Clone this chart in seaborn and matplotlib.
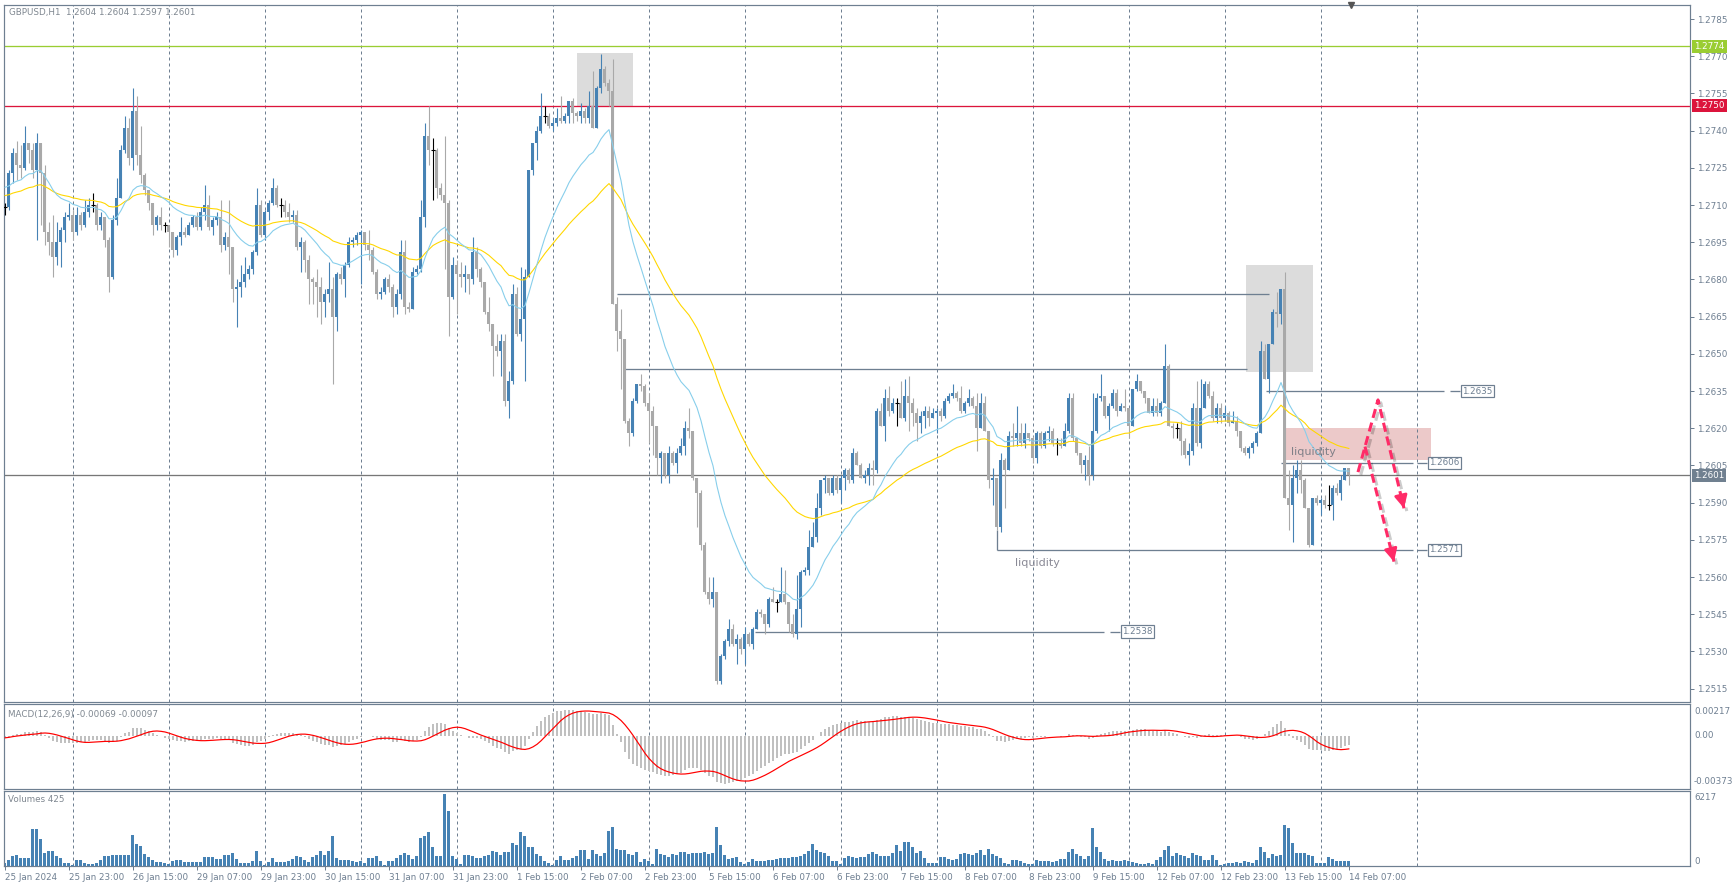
import numpy as np
import pandas as pd
import matplotlib
matplotlib.use("Agg")
import matplotlib.pyplot as plt
import matplotlib.patheffects as pe
from matplotlib.patches import Rectangle
import seaborn as sns

# GBPUSD H1, prices written as 1.2xxx -> xxx (pips above 1.2000)
close_p = [
    709, 723, 731, 726, 725, 735, 732, 724, 735, 723, 699, 695, 689, 695, 700, 705,
    706, 699, 706, 702, 707, 710, 710, 702, 705, 696, 681, 704, 713, 732, 741, 729,
    748, 730, 722, 716, 711, 702, 705, 702, 702, 699, 692, 697, 699, 698, 702, 705,
    701, 707, 710, 701, 704, 705, 694, 697, 693, 676, 677, 679, 682, 684, 691, 710,
    698, 707, 711, 717, 710, 710, 707, 705, 706, 693, 695, 688, 680, 679, 677, 671,
    674, 676, 665, 682, 680, 686, 695, 696, 698, 699, 694, 692, 683, 674, 675, 680,
    677, 669, 674, 691, 669, 668, 683, 684, 705, 738, 732, 732, 717, 714, 711, 673,
    686, 682, 681, 682, 680, 691, 684, 679, 667, 662, 653, 651, 655, 631, 639, 674,
    658, 664, 681, 724, 735, 740, 746, 746, 742, 743, 745, 744, 746, 752, 747, 746,
    748, 745, 750, 741, 757, 765, 759, 756, 670, 659, 656, 623, 618, 631, 638, 637,
    630, 627, 621, 608, 610, 601, 610, 606, 610, 613, 620, 619, 600, 594, 573, 554,
    551, 554, 518, 528, 534, 539, 533, 535, 531, 537, 533, 539, 546, 545, 541, 551,
    550, 550, 553, 550, 541, 537, 547, 562, 563, 572, 576, 588, 599, 600, 594, 600,
    595, 600, 603, 599, 610, 605, 600, 601, 604, 603, 627, 621, 632, 627, 630, 630,
    624, 633, 630, 626, 622, 625, 627, 624, 626, 627, 625, 631, 633, 634, 632, 627,
    630, 632, 629, 620, 630, 619, 599, 600, 580, 607, 603, 617, 616, 618, 614, 618,
    616, 608, 618, 613, 618, 619, 614, 614, 613, 619, 632, 616, 610, 605, 607, 601,
    619, 632, 633, 625, 629, 634, 627, 629, 628, 621, 636, 639, 635, 632, 626, 629,
    626, 630, 645, 621, 620, 620, 615, 609, 611, 628, 614, 628, 638, 633, 624, 628,
    624, 626, 622, 623, 619, 612, 610, 612, 614, 618, 651, 640, 654, 667, 666, 676,
    592, 589, 600, 603, 599, 588, 573, 592, 590, 591, 589, 589, 596, 594, 599, 604, 601,
]
high_p = [
    711, 724, 733, 736, 734, 742, 735, 735, 739, 735, 726, 703, 706, 703, 701, 707,
    711, 708, 709, 707, 712, 713, 715, 711, 707, 705, 697, 706, 721, 734, 746, 745,
    757, 754, 742, 723, 716, 711, 706, 709, 703, 702, 699, 698, 705, 701, 703, 706,
    707, 709, 718, 714, 705, 707, 712, 699, 712, 693, 680, 686, 689, 686, 692, 717,
    712, 708, 712, 721, 718, 713, 712, 711, 708, 708, 697, 696, 690, 681, 684, 681,
    676, 687, 681, 683, 685, 687, 697, 697, 699, 700, 699, 700, 693, 684, 677, 681,
    682, 678, 676, 696, 696, 671, 685, 686, 712, 743, 750, 737, 733, 719, 738, 712,
    689, 688, 687, 686, 682, 697, 693, 685, 679, 673, 662, 658, 658, 658, 643, 678,
    677, 685, 684, 724, 735, 742, 755, 750, 747, 745, 749, 754, 747, 752, 753, 748,
    751, 749, 756, 764, 758, 771, 766, 761, 769, 673, 668, 656, 624, 632, 638, 642,
    638, 634, 629, 621, 611, 610, 613, 611, 612, 616, 623, 628, 619, 600, 595, 574,
    560, 560, 554, 529, 535, 543, 541, 537, 536, 540, 538, 540, 547, 547, 545, 552,
    556, 551, 564, 563, 550, 545, 561, 563, 564, 579, 582, 594, 599, 601, 600, 601,
    601, 601, 604, 604, 612, 611, 606, 603, 606, 607, 628, 630, 636, 637, 632, 632,
    639, 640, 641, 632, 628, 627, 629, 629, 628, 628, 628, 632, 634, 638, 635, 637,
    631, 636, 633, 634, 634, 633, 619, 604, 600, 610, 608, 619, 622, 629, 622, 622,
    618, 617, 619, 619, 619, 621, 620, 616, 616, 622, 634, 634, 616, 610, 609, 613,
    634, 634, 642, 633, 630, 636, 636, 630, 636, 628, 636, 642, 639, 635, 632, 632,
    632, 631, 654, 646, 622, 622, 623, 616, 614, 630, 639, 640, 639, 639, 635, 630,
    630, 629, 627, 627, 625, 619, 613, 613, 615, 619, 655, 654, 654, 668, 675, 676,
    683, 603, 605, 607, 607, 600, 588, 592, 593, 592, 593, 597, 597, 598, 601, 604, 604,
]
low_p = [
    706, 708, 719, 720, 721, 724, 727, 721, 696, 702, 694, 690, 681, 686, 685, 695,
    704, 696, 698, 700, 701, 705, 707, 700, 700, 693, 675, 680, 702, 713, 731, 726,
    724, 726, 719, 714, 708, 698, 700, 700, 699, 693, 689, 690, 694, 697, 698, 701,
    700, 700, 704, 700, 698, 702, 691, 692, 682, 671, 661, 673, 677, 680, 682, 690,
    697, 696, 704, 710, 709, 705, 705, 703, 703, 692, 683, 683, 670, 670, 665, 662,
    665, 671, 638, 659, 678, 673, 685, 693, 694, 678, 692, 688, 682, 672, 672, 674,
    675, 665, 666, 672, 666, 667, 668, 682, 683, 701, 726, 712, 713, 712, 684, 657,
    672, 666, 677, 675, 674, 678, 681, 677, 666, 659, 641, 649, 641, 629, 624, 638,
    657, 655, 639, 681, 722, 728, 739, 743, 741, 740, 742, 743, 743, 743, 743, 744,
    743, 743, 743, 741, 741, 755, 758, 750, 670, 651, 636, 622, 613, 617, 630, 635,
    629, 614, 609, 601, 598, 600, 598, 605, 602, 609, 609, 616, 599, 580, 571, 553,
    549, 548, 517, 517, 527, 532, 532, 525, 529, 525, 532, 531, 539, 544, 537, 540,
    550, 546, 550, 549, 538, 536, 535, 540, 561, 561, 572, 574, 585, 594, 593, 593,
    594, 590, 595, 598, 598, 605, 600, 598, 597, 597, 602, 621, 615, 625, 626, 621,
    624, 623, 619, 621, 615, 618, 620, 621, 624, 618, 623, 624, 630, 632, 631, 626,
    626, 629, 628, 611, 621, 619, 596, 589, 579, 578, 588, 603, 613, 613, 613, 612,
    615, 606, 606, 612, 612, 615, 613, 609, 612, 613, 618, 615, 609, 602, 599, 597,
    599, 618, 631, 624, 619, 628, 625, 627, 627, 616, 621, 635, 634, 630, 626, 625,
    625, 625, 630, 621, 616, 616, 609, 608, 605, 609, 613, 612, 628, 632, 623, 622,
    622, 623, 621, 622, 617, 611, 609, 608, 610, 613, 618, 640, 634, 654, 661, 662,
    592, 579, 574, 594, 594, 588, 572, 573, 589, 585, 588, 587, 583, 593, 591, 599, 597,
]
volume = [
    300, 540, 840, 960, 660, 660, 720, 3150, 3150, 2340, 1080, 1260, 1260, 840, 660, 240,
    300, 120, 480, 540, 300, 210, 210, 300, 540, 840, 840, 990, 960, 960, 960, 960,
    2700, 1890, 1740, 1020, 750, 540, 360, 360, 270, 210, 450, 510, 510, 360, 360, 330,
    360, 360, 810, 810, 810, 600, 600, 990, 990, 1080, 600, 300, 240, 240, 390, 1260,
    390, 90, 360, 660, 360, 360, 360, 450, 600, 900, 750, 510, 360, 750, 990, 1290,
    990, 1290, 2550, 660, 540, 510, 510, 390, 360, 390, 240, 660, 660, 840, 390, 90,
    390, 390, 660, 990, 1110, 990, 600, 840, 2400, 2550, 2910, 1650, 840, 840, 6217, 4700,
    840, 600, 150, 960, 960, 840, 660, 660, 840, 960, 1290, 1200, 960, 1200, 1200, 1950,
    1800, 2940, 2550, 1650, 1650, 1050, 840, 450, 240, 90, 510, 840, 510, 510, 660, 840,
    1350, 1350, 600, 1350, 1000, 840, 1085, 3000, 3400, 1490, 1400, 1400, 1030, 930, 1240, 370,
    620, 465, 200, 1460, 1020, 930, 775, 1020, 930, 1240, 1240, 1020, 1085, 1085, 1150, 1200,
    1000, 1100, 3400, 1800, 930, 620, 700, 775, 310, 150, 350, 620, 400, 400, 450, 560,
    560, 620, 680, 700, 680, 780, 800, 900, 1000, 1300, 1860, 1400, 1240, 1080, 900, 470,
    470, 200, 700, 900, 780, 700, 780, 800, 1050, 1200, 1050, 900, 900, 900, 1150, 1850,
    1300, 2080, 2100, 1600, 1150, 1300, 700, 300, 300, 300, 800, 800, 620, 500, 620, 1000,
    1100, 1000, 930, 1150, 1400, 930, 1500, 1000, 900, 650, 250, 150, 500, 500, 400, 300,
    200, 150, 560, 470, 470, 400, 310, 470, 620, 620, 1240, 1460, 1020, 900, 600, 900,
    3300, 1650, 1240, 620, 470, 530, 470, 400, 530, 400, 310, 250, 200, 200, 250, 150,
    530, 800, 1400, 1700, 840, 1150, 930, 840, 700, 1100, 950, 870, 500, 560, 930, 560,
    100, 150, 220, 280, 310, 220, 400, 310, 250, 500, 1640, 1200, 700, 1000, 900, 930,
    3500, 3300, 2000, 1150, 1085, 1150, 930, 900, 300, 300, 300, 775, 620, 465, 400, 400, 425,
]
time_labels = ["25 Jan 2024", "25 Jan 23:00", "26 Jan 15:00", "29 Jan 07:00", "29 Jan 23:00",
               "30 Jan 15:00", "31 Jan 07:00", "31 Jan 23:00", "1 Feb 15:00", "2 Feb 07:00",
               "2 Feb 23:00", "5 Feb 15:00", "6 Feb 07:00", "6 Feb 23:00", "7 Feb 15:00",
               "8 Feb 07:00", "8 Feb 23:00", "9 Feb 15:00", "12 Feb 07:00", "12 Feb 23:00",
               "13 Feb 15:00", "14 Feb 07:00"]
price_ticks = [1.2515, 1.2530, 1.2545, 1.2560, 1.2575, 1.2590, 1.2605, 1.2620, 1.2635,
               1.2650, 1.2665, 1.2680, 1.2695, 1.2710, 1.2725, 1.2740, 1.2755, 1.2770, 1.2785]

# drawn levels: price, from bar, to bar, boxed label
level_price = [1.2674, 1.2644, 1.2635, 1.2606, 1.2571, 1.2538]
level_from = [153, 155, 315.25, 319, 248, 187.5]
level_to = [316, 310.5, 359.75, 352, 352, 274.75]
level_tag = [None, None, "1.2635", "1.2606", "1.2571", "1.2538"]
tag_bar = [None, None, 364, 355.75, 355.75, 279]

assert len(close_p) == len(high_p) == len(low_p) == len(volume) == 337

sns.set_style("white")
plt.rcParams['font.family'] = ['DejaVu Sans']

W, H = 1733, 889
SLATE = '#6e7f91'
BULL, BEAR = '#4682b4', '#a9a9a9'
PINK = '#ff2b67'
PX = 0.72  # one pixel in points

def rect(x0, y0, x1, y1):
    return [x0 / W, 1 - y1 / H, (x1 - x0) / W, (y1 - y0) / H]

def fy(y):
    return 1 - y / H

def py(p):
    # pixel row of a price on the main pane
    return 19 + (1.2785 - p) * 24800

C = 1.2 + np.array(close_p) / 10000
Hi = 1.2 + np.array(high_p) / 10000
Lo = 1.2 + np.array(low_p) / 10000
O = np.r_[C[0], C[:-1]]
Hi = np.maximum(Hi, np.maximum(O, C))
Lo = np.minimum(Lo, np.minimum(O, C))
idx = np.arange(len(C))

def ema(vals, span, seed):
    k = 2 / (span + 1)
    out, e = [], seed
    for v in vals:
        e = e + k * (v - e)
        out.append(e)
    return np.array(out)

ema20 = ema(C, 20, 1.2718)
ema50 = ema(C, 50, 1.2714)
macd = ema(C, 12, 1.2716) - ema(C, 26, 1.2717)
signal = pd.Series(macd).rolling(9, min_periods=1).mean().values

fig = plt.figure(figsize=(W / 100, H / 100), dpi=100)
fig.patch.set_facecolor('white')
ax = fig.add_axes(rect(4, 5, 1690, 702))
axm = fig.add_axes(rect(4, 704, 1690, 789))
axv = fig.add_axes(rect(4, 791, 1690, 866))

XL = (-0.25, 421.25)
for a in (ax, axm, axv):
    for s in a.spines.values():
        s.set_color(SLATE)
        s.set_linewidth(PX * 1.2)
    for g in range(17, 360, 24):
        a.axvline(g, color=SLATE, lw=PX, ls=(0, (3, 3)), zorder=0.5)

# --- main pane
ax.add_patch(Rectangle((143, 1.27495), 14, 0.00218, color='#dcdcdc', lw=0, zorder=0.3))
ax.add_patch(Rectangle((310.25, 1.26427), 16.75, 0.00431, color='#dcdcdc', lw=0, zorder=0.3))
ax.add_patch(Rectangle((319.5, 1.26072), 37, 0.00129, color='#ecc9c9', lw=0, zorder=0.3))

ax.axhline(1.2774, color='#9acd32', lw=PX * 1.3, zorder=1)
ax.axhline(1.2750, color='#dc143c', lw=PX * 1.3, zorder=1)
ax.axhline(1.2601, color='#777777', lw=PX * 1.3, zorder=1)

for p, a0, a1, tag, tb in zip(level_price, level_from, level_to, level_tag, tag_bar):
    ax.hlines(p, a0, a1, color=SLATE, lw=PX * 1.3, zorder=1)
    if tag:
        ax.hlines(p, tb - 2.75, tb - 0.25, color=SLATE, lw=PX * 1.3, zorder=1)
        ax.text(tb + 0.3, p, tag, fontsize=6.3, color=SLATE, va='center', ha='left', zorder=6,
                bbox=dict(boxstyle='square,pad=0.18', fc='white', ec=SLATE, lw=PX * 1.2))
ax.vlines(248, 1.2571, Lo[248], color=SLATE, lw=PX * 1.3, zorder=1)

up = C > O
eq = C == O
cols = np.where(up, BULL, BEAR)
ax.vlines(idx[~eq], Lo[~eq], Hi[~eq], colors=cols[~eq], lw=PX * 1.1, zorder=3)
ax.vlines(idx[eq], Lo[eq], Hi[eq], colors='black', lw=PX * 1.1, zorder=3)
body = np.maximum(np.abs(C - O), 0.00004)
ax.bar(idx[~eq], body[~eq], bottom=np.minimum(O, C)[~eq], width=0.75,
       color=cols[~eq], linewidth=0, zorder=3)
ax.hlines(C[eq], idx[eq] - 0.45, idx[eq] + 0.45, colors='black', lw=PX * 1.1, zorder=3)

sns.lineplot(x=idx, y=ema50, ax=ax, color='#ffd700', linewidth=PX * 1.1, zorder=4)
sns.lineplot(x=idx, y=ema20, ax=ax, color='#87ceeb', linewidth=PX * 1.1, zorder=4)

ax.text(252.5, 1.25656, "liquidity", fontsize=8, color='#8a8a96', va='center', zorder=6)
ax.text(321.5, 1.26104, "liquidity", fontsize=8, color='#808088', va='center', zorder=6)

shadow = [pe.SimpleLineShadow(offset=(2, -2), alpha=0.2), pe.Normal()]
legs = [((338.25, 1.26023), (343.25, 1.26314), (349.75, 1.25877)),
        ((340, 1.26126), (347.25, 1.25662))]
for leg in legs:
    xs, ys = zip(*leg)
    ax.plot(xs, ys, color=PINK, lw=2.2, ls=(0, (3, 1.6)), zorder=7, path_effects=shadow)
    (x0, y0), (x1, y1) = leg[-2], leg[-1]
    ax.annotate('', xy=(x1, y1), xytext=(x1 - 0.12 * (x1 - x0), y1 - 0.12 * (y1 - y0)),
                arrowprops=dict(arrowstyle='-|>,head_length=0.75,head_width=0.38', color=PINK,
                                lw=2, shrinkA=0, shrinkB=0), zorder=8)

ax.plot([336.5], [1.27906], marker='v', color='#555555', ms=5, clip_on=False, zorder=9)

ax.set_xlim(*XL)
ax.set_ylim(1.250960, 1.279065)
ax.set_xlabel('')
ax.set_ylabel('')
ax.yaxis.tick_right()
ax.set_yticks(price_ticks)
ax.set_yticklabels([f"{t:.4f}" for t in price_ticks])
ax.tick_params(axis='y', right=True, length=3, width=PX, color=SLATE, labelcolor=SLATE,
               labelsize=6.3, pad=2)
ax.tick_params(axis='x', bottom=False, labelbottom=False)

for p, fc in [(1.2774, '#9acd32'), (1.2750, '#dc143c'), (1.2601, '#708090')]:
    fig.text(1694 / W, fy(py(p)), f"{p:.4f}", fontsize=6.3, color='white', va='center', ha='left',
             bbox=dict(boxstyle='square,pad=0.25', fc=fc, ec='none'))

fig.text(9 / W, fy(13), "GBPUSD,H1  1.2604 1.2604 1.2597 1.2601", fontsize=6.3,
         color='#7f8790', va='center')

# --- MACD pane
axm.bar(idx, macd, width=0.6, color='#c0c0c0', linewidth=0, zorder=2)
sns.lineplot(x=idx, y=signal, ax=axm, color='red', linewidth=PX * 1.2, zorder=3)
axm.set_xlim(*XL)
axm.set_ylim(-0.00373 - 0.00015, 0.00217 + 0.00015)
axm.set_xlabel('')
axm.set_ylabel('')
axm.set_yticks([])
axm.tick_params(axis='x', bottom=False, labelbottom=False)
fig.text(8 / W, fy(714), "MACD(12,26,9) -0.00069 -0.00097", fontsize=6.3, color='#7f8790', va='center')
for y, t in [(711, "0.00217"), (736, "0.00"), (782, "-0.00373")]:
    fig.text(1694 / W, fy(y), t, fontsize=6.3, color=SLATE, va='center')

# --- volume pane
axv.bar(idx, volume, width=0.75, color=BULL, linewidth=0, zorder=2)
axv.set_xlim(*XL)
axv.set_ylim(0, 6217 * 1.04)
axv.set_yticks([])
fig.text(8 / W, fy(800), "Volumes 425", fontsize=6.3, color='#7f8790', va='center')
fig.text(1694 / W, fy(797), "6217", fontsize=6.3, color=SLATE, va='center')
fig.text(1694 / W, fy(861), "0", fontsize=6.3, color=SLATE, va='center')

axv.set_xticks(list(range(0, 337, 16)))
axv.set_xticklabels(time_labels, ha='left')
axv.tick_params(axis='x', bottom=True, length=3, width=PX, color=SLATE, labelcolor=SLATE,
                labelsize=6.3, pad=2)

fig.savefig("out.png", dpi=100, facecolor='white')
